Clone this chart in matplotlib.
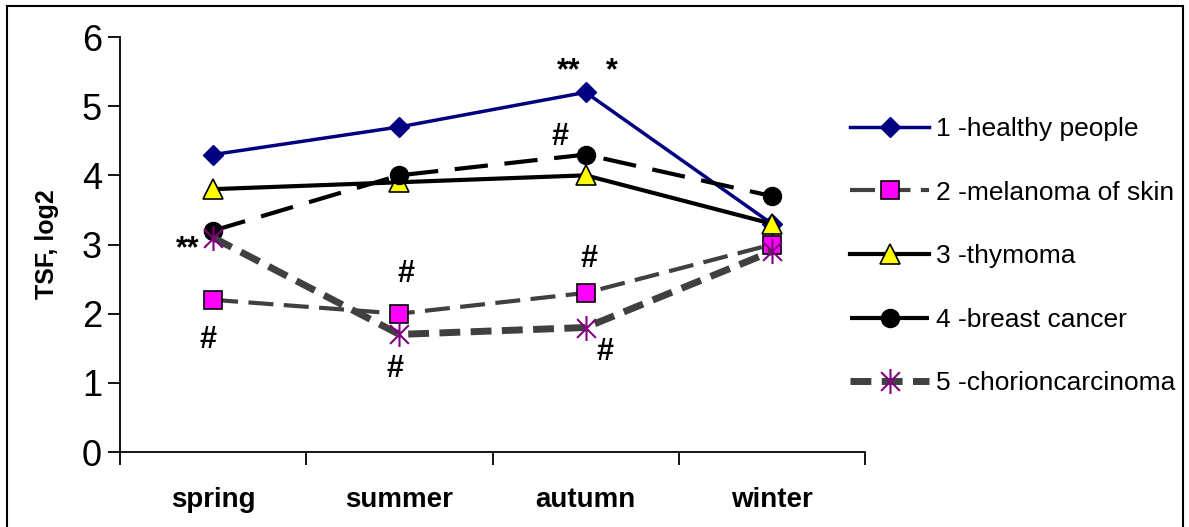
import matplotlib
matplotlib.use("Agg")
import matplotlib.pyplot as plt
from matplotlib.path import Path
from matplotlib.patches import Rectangle

plt.rcParams['font.family'] = ['Liberation Sans', 'DejaVu Sans']

# data
seasons = ["spring", "summer", "autumn", "winter"]
healthy = [4.3, 4.7, 5.2, 3.3]
melanoma = [2.2, 2.0, 2.3, 3.0]
thymoma = [3.8, 3.9, 4.0, 3.3]
breast = [3.2, 4.0, 4.3, 3.7]
chorion = [3.1, 1.7, 1.8, 2.9]
labels = ["1 -healthy people", "2 -melanoma of skin", "3 -thymoma",
          "4 -breast cancer", "5 -chorioncarcinoma"]

# significance marks: (season index, value, text, dx px, dy px)
marks = [
    (0, 3.1, "**", -25, -12),
    (0, 2.2, "#", -5, -40),
    (1, 2.0, "#", 7, 40),
    (1, 1.7, "#", -4, -35),
    (2, 5.2, "**", -17, 21),
    (2, 5.2, "*", 26, 21),
    (2, 4.3, "#", -26, 18),
    (2, 2.3, "#", 3, 34),
    (2, 1.8, "#", 19, -24),
]

# excel-like asterisk marker
d = 0.75
asterisk = Path([(0, -1), (0, 1), (-d, -d), (d, d), (-d, d), (d, -d)],
                [Path.MOVETO, Path.LINETO, Path.MOVETO, Path.LINETO, Path.MOVETO, Path.LINETO])

fig = plt.figure(figsize=(11.89, 5.27), dpi=100)
ax = fig.add_axes([120 / 1189, 1 - 452 / 527, 745 / 1189, 415 / 527])

x = list(range(len(seasons)))
ax.plot(x, healthy, color="#000080", lw=2.5, marker="D", ms=10, mfc="#000080", mec="#000080",
        label=labels[0])
ax.plot(x, melanoma, color="#404040", lw=3, ls=(0, (6, 2.5)), marker="s", ms=13,
        mfc="#FF00FF", mec="black", mew=1.2, label=labels[1])
ax.plot(x, thymoma, color="black", lw=3, marker="^", ms=15, mfc="#FFFF00", mec="black",
        mew=1.2, label=labels[2])
ax.plot(x, breast, color="black", lw=3, ls=(0, (8, 4)), marker="o", ms=13, mfc="black",
        mec="black", label=labels[3])
ax.plot(x, chorion, color="#404040", lw=5, ls=(0, (3, 1.5)), marker=asterisk, ms=18,
        mfc="none", mec="#800080", mew=1.5, label=labels[4])

for i, v, t, dx, dy in marks:
    ax.annotate(t, (i, v), xytext=(dx * 0.72, dy * 0.72), textcoords="offset points",
                ha="center", va="center", fontsize=22, fontweight="bold")

ax.set_xlim(-0.5, 3.5)
ax.set_ylim(0, 6)
ax.set_yticks(range(7))
ax.tick_params(axis="y", labelsize=26, length=9, width=1.3, pad=4, direction="out")
ax.set_xticks([-0.5, 0.5, 1.5, 2.5, 3.5])
ax.set_xticklabels([])
ax.tick_params(axis="x", length=9, width=1.3, direction="out")
ax.set_xticks(x, minor=True)
ax.set_xticklabels(seasons, minor=True, fontsize=20, fontweight="bold")
ax.tick_params(axis="x", which="minor", length=0, pad=25)
for s in ["top", "right"]:
    ax.spines[s].set_visible(False)
for s in ["left", "bottom"]:
    ax.spines[s].set_linewidth(1.3)

ax.set_ylabel("TSF, log2", fontsize=18, fontweight="bold", labelpad=16)

fig.legend(loc="upper left", bbox_to_anchor=(850 / 1189, 1 - 117 / 527), frameon=False,
           fontsize=19, handlelength=3.0, handletextpad=0.25, labelspacing=1.5,
           borderpad=0, borderaxespad=0)

# frame around the chart area
fig.patches.append(Rectangle((7 / 1189, -0.05), 1176 / 1189, 1.05 - 6 / 527,
                             transform=fig.transFigure, fill=False, ec="black", lw=1.5))

fig.savefig("out.png", dpi=100)
